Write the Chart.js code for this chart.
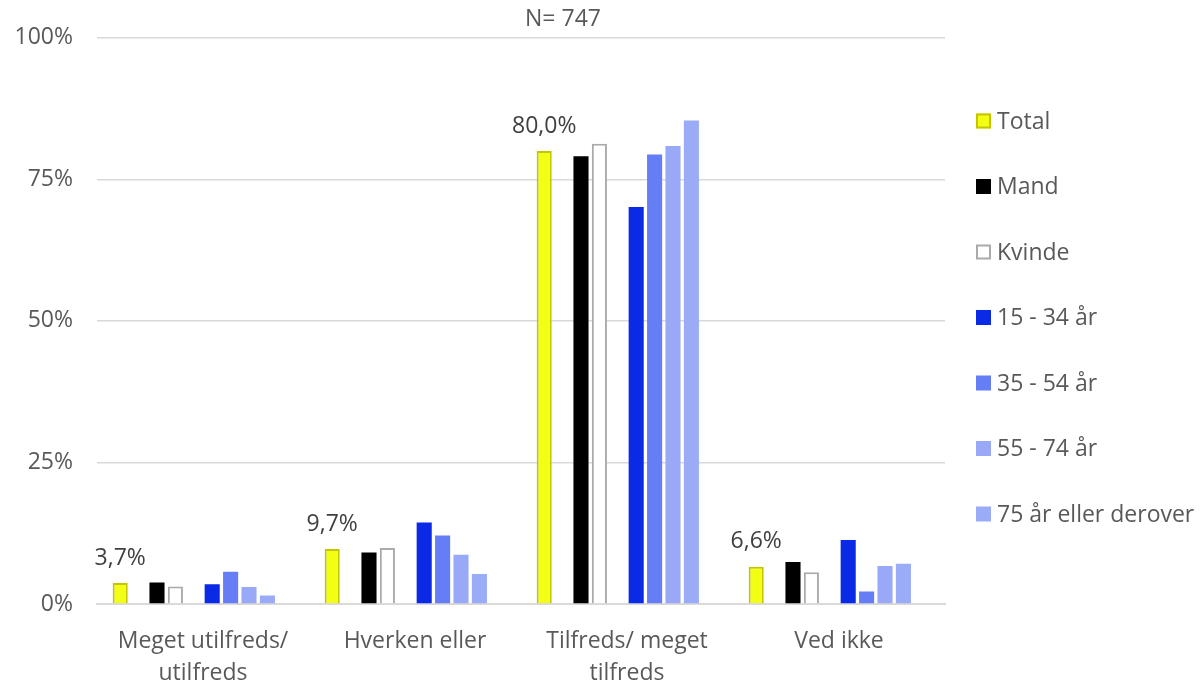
<!DOCTYPE html>
<html>
<head>
<meta charset="utf-8">
<script src="https://cdn.jsdelivr.net/npm/chart.js@4"></script>
<style>
  html, body { margin: 0; padding: 0; background: #fff; }
  #wrap { width: 1203px; height: 684px; }
</style>
</head>
<body>
<div id="wrap"><canvas id="myChart" width="1203" height="684"></canvas></div>
<script>
//--------------------- Data ---------------------
const categories = [["Meget utilfreds/", "utilfreds"], "Hverken eller", ["Tilfreds/ meget", "tilfreds"], "Ved ikke"];
const total = [3.7, 9.7, 80.0, 6.6];
const mand = [3.8, 9.1, 79.1, 7.4];
const kvinde = [3.1, 9.9, 81.3, 5.6];
const age15to34 = [3.5, 14.4, 70.1, 11.3];
const age35to54 = [5.7, 12.1, 79.4, 2.2];
const age55to74 = [3.0, 8.7, 80.9, 6.7];
const age75plus = [1.5, 5.3, 85.4, 7.1];
const yTicks = [0, 25, 50, 75, 100];
const chartTitle = "N= 747";

const FONT = "'Open Sans', sans-serif";
const FSIZE = 23;
const TEXT = "#595959";
const blank = [null, null, null, null];

// empty datasets keep the gaps between the groups of bars
const series = [
  { label: "Total", data: total, backgroundColor: "#F2FF14", borderColor: "#C4C400", borderWidth: 2 },
  { label: "", data: blank },
  { label: "Mand", data: mand, backgroundColor: "#000000", borderColor: "#000000", borderWidth: 0 },
  { label: "Kvinde", data: kvinde, backgroundColor: "#FFFFFF", borderColor: "#AAAAAA", borderWidth: 2 },
  { label: "", data: blank },
  { label: "15 - 34 år", data: age15to34, backgroundColor: "#0A2AE6", borderColor: "#0A2AE6", borderWidth: 0 },
  { label: "35 - 54 år", data: age35to54, backgroundColor: "#667EF5", borderColor: "#667EF5", borderWidth: 0 },
  { label: "55 - 74 år", data: age55to74, backgroundColor: "#99A9F8", borderColor: "#99A9F8", borderWidth: 0 },
  { label: "75 år eller derover", data: age75plus, backgroundColor: "#9AABF8", borderColor: "#9AABF8", borderWidth: 0 },
  { label: "", data: blank },
];

//--------------------- Plugins ---------------------
// labels over the Total bars
const totalLabels = {
  id: "totalLabels",
  afterDatasetsDraw(chart) {
    const { ctx } = chart;
    const meta = chart.getDatasetMeta(0);
    ctx.save();
    ctx.font = FSIZE + "px " + FONT;
    ctx.fillStyle = "#404040";
    ctx.textAlign = "center";
    ctx.textBaseline = "middle";
    meta.data.forEach((bar, i) => {
      const txt = total[i].toFixed(1).replace(".", ",") + "%";
      ctx.fillText(txt, bar.x, bar.y - 25);
    });
    ctx.restore();
  },
};

// title and legend on the right side
const sideLegend = {
  id: "sideLegend",
  afterDraw(chart) {
    const { ctx } = chart;
    ctx.save();
    ctx.font = FSIZE + "px " + FONT;
    ctx.fillStyle = TEXT;
    ctx.textAlign = "center";
    ctx.textBaseline = "middle";
    ctx.fillText(chartTitle, 563, 19);

    ctx.textAlign = "left";
    let y = 121;
    chart.data.datasets.forEach((ds) => {
      if (!ds.label) return;
      ctx.fillStyle = ds.backgroundColor;
      ctx.fillRect(976, y - 7.5, 15, 15);
      if (ds.borderWidth) {
        ctx.strokeStyle = ds.borderColor;
        ctx.lineWidth = 2;
        ctx.strokeRect(977, y - 6.5, 13, 13);
      }
      ctx.fillStyle = TEXT;
      ctx.fillText(ds.label, 997, y + 1);
      y += 65.5;
    });
    ctx.restore();
  },
};

//--------------------- Chart ---------------------
const ctx = document.getElementById("myChart").getContext("2d");

const myChart = new Chart(ctx, {
  type: "bar",
  data: { labels: categories, datasets: series },
  options: {
    responsive: false,
    animation: false,
    datasets: { bar: { categoryPercentage: 0.868, barPercentage: 0.82 } },
    layout: { padding: { top: 36, right: 258, left: 0, bottom: 0 } },
    plugins: {
      legend: { display: false },
      tooltip: { enabled: false },
    },
    scales: {
      x: {
        grid: { display: false },
        border: { display: true, color: "#D9D9D9", width: 2 },
        ticks: { color: TEXT, font: { family: FONT, size: FSIZE, lineHeight: 1.38 }, padding: 14, maxRotation: 0 },
        afterFit: (scale) => { scale.height = 80; },
      },
      y: {
        min: 0,
        max: 100,
        afterBuildTicks: (scale) => { scale.ticks = yTicks.map((v) => ({ value: v })); },
        grid: { color: "#D9D9D9", lineWidth: 1.5, drawTicks: false },
        border: { display: false },
        ticks: { color: TEXT, font: { family: FONT, size: FSIZE }, padding: 24, callback: (v) => v + "%" },
        afterFit: (scale) => { scale.width = 97; },
      },
    },
  },
  plugins: [totalLabels, sideLegend],
});
</script>
</body>
</html>
